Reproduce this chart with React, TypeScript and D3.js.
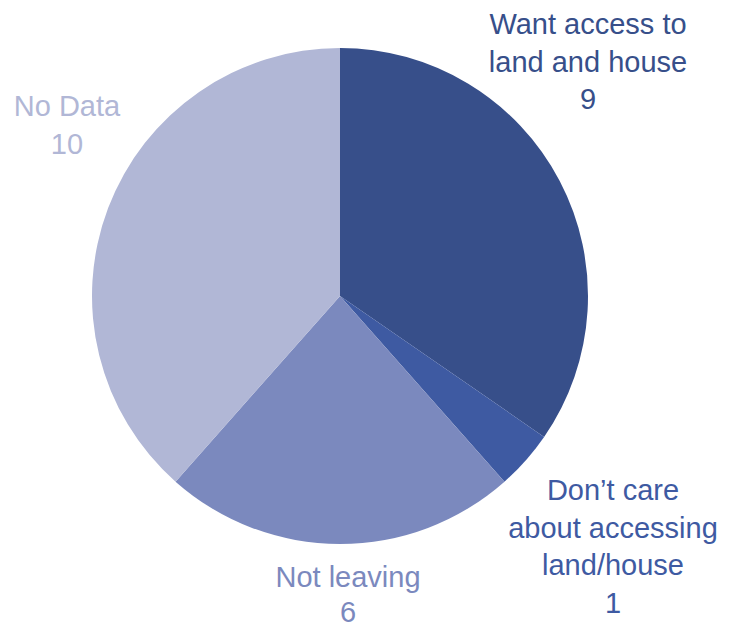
import React from "react";
import * as d3 from "d3";

const categories = ["Want access to land and house", "Don't care about accessing land/house", "Not leaving", "No Data"];
const values = [9, 1, 6, 10];
const colors = ["#374f8a", "#3e5aa2", "#7b89be", "#b1b7d6"];
const labelLines = [
  ["Want access to", "land and house", "9"],
  ["Don\u2019t care", "about accessing", "land/house", "1"],
  ["Not leaving", "6"],
  ["No Data", "10"],
];
const labelPos = [
  [588, 24],
  [613, 490],
  [348, 577],
  [67, 106],
];

export default function App() {
  const cx = 340, cy = 296, r = 248;
  const pie = d3.pie<number>().sort(null).value((d) => d);
  const arcs = pie(values);
  const arc = d3.arc<d3.PieArcDatum<number>>().innerRadius(0).outerRadius(r);
  return (
    <svg width={738} height={628} style={{ position: "absolute", left: 0, top: 0, background: "#fff" }}>
      <g transform={`translate(${cx},${cy})`}>
        {arcs.map((a, i) => (
          <path key={i} d={arc(a) || ""} fill={colors[i]} />
        ))}
      </g>
      {labelLines.map((lines, i) => (
        <text key={i} fontFamily="'Liberation Sans', Arial, sans-serif" fontSize={29} fill={colors[i]} textAnchor="middle">
          {lines.map((l, j) => (
            <tspan key={j} x={labelPos[i][0]} y={labelPos[i][1] + j * (i === 2 ? 35 : 37.5)} dominantBaseline="central">{l}</tspan>
          ))}
        </text>
      ))}
    </svg>
  );
}
